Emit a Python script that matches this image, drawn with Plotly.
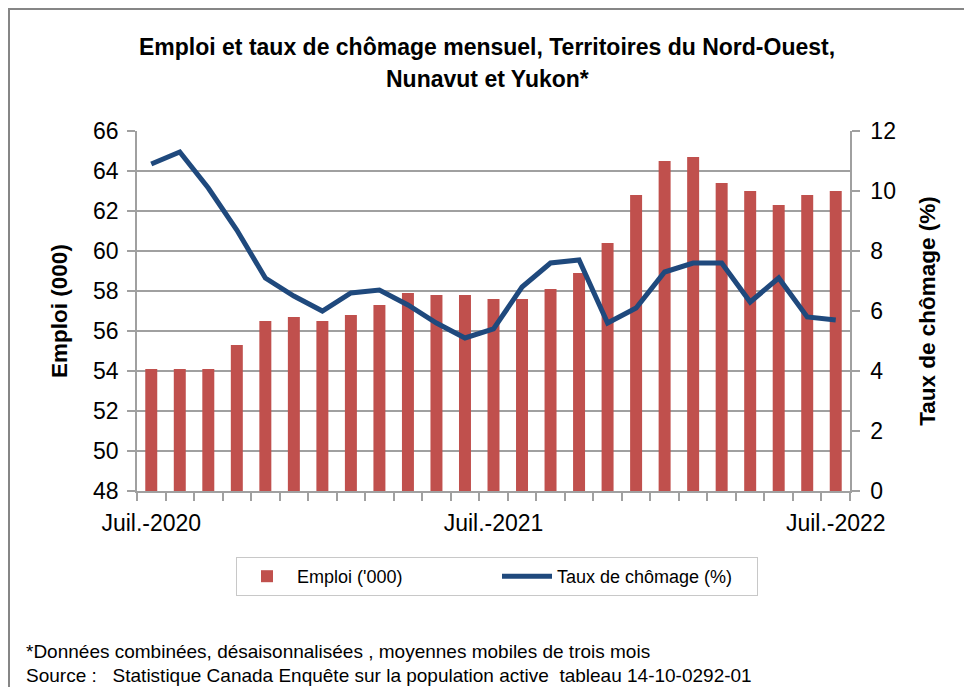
import plotly.graph_objects as go

months = ["2020-07", "2020-08", "2020-09", "2020-10", "2020-11", "2020-12",
          "2021-01", "2021-02", "2021-03", "2021-04", "2021-05", "2021-06",
          "2021-07", "2021-08", "2021-09", "2021-10", "2021-11", "2021-12",
          "2022-01", "2022-02", "2022-03", "2022-04", "2022-05", "2022-06",
          "2022-07"]
tick_labels = ["Juil.-2020", "", "", "", "", "", "", "", "", "", "", "",
               "Juil.-2021", "", "", "", "", "", "", "", "", "", "", "",
               "Juil.-2022"]
emploi = [54.1, 54.1, 54.1, 55.3, 56.5, 56.7, 56.5, 56.8, 57.3, 57.9, 57.8, 57.8,
          57.6, 57.6, 58.1, 58.9, 60.4, 62.8, 64.5, 64.7, 63.4, 63.0, 62.3, 62.8,
          63.0]
chomage = [10.9, 11.3, 10.1, 8.7, 7.1, 6.5, 6.0, 6.6, 6.7, 6.2, 5.6, 5.1,
           5.4, 6.8, 7.6, 7.7, 5.6, 6.1, 7.3, 7.6, 7.6, 6.3, 7.1, 5.8,
           5.7]
left_ticks = [48, 50, 52, 54, 56, 58, 60, 62, 64, 66]
right_ticks = [0, 2, 4, 6, 8, 10, 12]

FONT = "Liberation Sans"
GRID = "#a0a0a0"
TICKF = 23

fig = go.Figure()
fig.add_trace(go.Bar(x=months, y=emploi, name="Emploi ('000)",
                     marker=dict(color="#C0504D", line=dict(width=0)),
                     yaxis="y"))
fig.add_trace(go.Scatter(x=months, y=chomage, name="Taux de chômage (%)",
                         mode="lines", line=dict(color="#1F497D", width=5),
                         yaxis="y2"))

W, H = 964, 687
L, R, T, B = 137, 114, 131, 196
pw, ph = W - L - R, H - T - B

def px(x):
    return (x - L) / pw

def py(y):
    return (H - B - y) / ph

fig.update_layout(
    width=W, height=H,
    margin=dict(l=L, r=R, t=T, b=B, autoexpand=False),
    paper_bgcolor="white", plot_bgcolor="white",
    font=dict(family=FONT, color="#000000", size=20),
    bargap=0.58,
    showlegend=True,
    legend=dict(orientation="h", x=px(497), xanchor="center", y=py(557), yanchor="top",
                bordercolor="#c8c8c8", borderwidth=1, bgcolor="white",
                font=dict(size=18, family=FONT), itemwidth=50,
                entrywidth=195, traceorder="normal"),
    xaxis=dict(type="category", tickmode="array", tickvals=months, ticktext=tick_labels,
               tickson="boundaries", ticks="outside", ticklen=8, tickcolor=GRID,
               tickwidth=1.5, showline=True, linecolor=GRID, linewidth=1.5,
               showgrid=False, tickfont=dict(size=TICKF), tickangle=0,
               ticklabelstandoff=11,
               range=[-0.5, 24.5], automargin=False),
    yaxis=dict(range=[48, 66], tickvals=left_ticks, ticks="outside", ticklen=8,
               tickcolor=GRID, tickwidth=1.5, showline=True, linecolor=GRID,
               linewidth=1.5, showgrid=True, gridcolor=GRID, gridwidth=1.5,
               zeroline=False, tickfont=dict(size=TICKF), automargin=False,
               ticklabelstandoff=4,
               title=dict(text="<b>Emploi (000)</b>", font=dict(size=22.5), standoff=19)),
    yaxis2=dict(range=[0, 12], tickvals=right_ticks, overlaying="y", side="right",
                ticks="outside", ticklen=8, tickcolor=GRID, tickwidth=1.5,
                showline=True, linecolor=GRID, linewidth=1.5, showgrid=False,
                zeroline=False, tickfont=dict(size=TICKF), automargin=False,
                ticklabelstandoff=6,
                title=dict(text="<b>Taux de chômage (%)</b>", font=dict(size=22.5), standoff=24)),
    annotations=[
        dict(text="<b>Emploi et taux de chômage mensuel, Territoires du Nord-Ouest,</b>",
             xref="paper", yref="paper", x=px(487), y=py(47), xanchor="center",
             yanchor="middle", showarrow=False, font=dict(size=23, family=FONT)),
        dict(text="<b>Nunavut et Yukon*</b>",
             xref="paper", yref="paper", x=px(487), y=py(79), xanchor="center",
             yanchor="middle", showarrow=False, font=dict(size=23, family=FONT)),
        dict(text="*Données combinées, désaisonnalisées , moyennes mobiles de trois mois",
             xref="paper", yref="paper", x=px(24), y=py(651), xanchor="left",
             yanchor="middle", showarrow=False, font=dict(size=19, family=FONT)),
        dict(text="Source :&nbsp;&nbsp; Statistique Canada Enquête sur la population active&nbsp; tableau 14-10-0292-01",
             xref="paper", yref="paper", x=px(24), y=py(675), xanchor="left",
             yanchor="middle", showarrow=False, font=dict(size=19, family=FONT)),
    ],
    shapes=[
        dict(type="rect", xref="paper", yref="paper", x0=px(9), x1=px(980),
             y0=py(700), y1=py(9), line=dict(color="#868686", width=2),
             fillcolor="rgba(0,0,0,0)", layer="below"),
    ],
)

fig.write_html("out.html", config={"displayModeBar": False},
               post_script="document.body.style.margin='0';document.body.style.padding='0';document.body.style.overflow='hidden';")
